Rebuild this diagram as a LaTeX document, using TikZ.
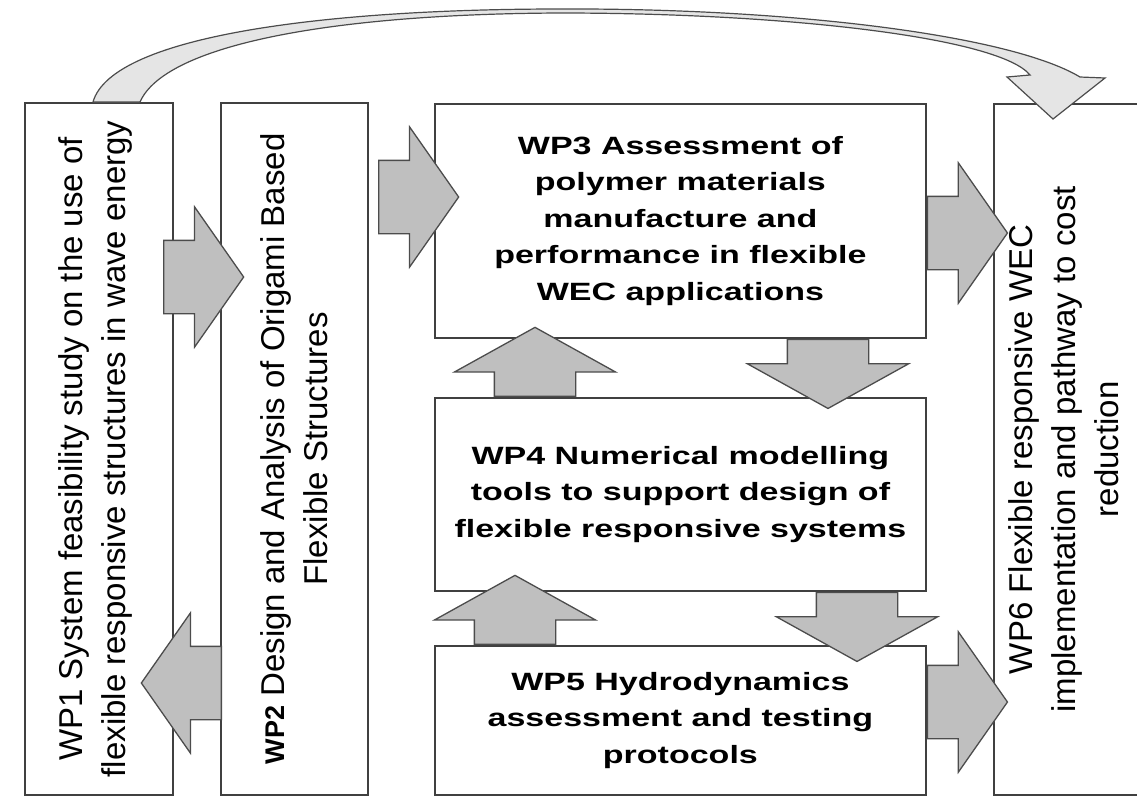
\documentclass[tikz,border=0pt]{standalone}
\usepackage{fontspec}
\setmainfont{Liberation Sans}
\newfontfamily\widefont[FakeStretch=1.36]{Liberation Sans}
\usetikzlibrary{shapes.arrows}

\begin{document}
\begin{tikzpicture}[x=1pt,y=-1pt,
  box/.style={draw=black!75,line width=1.8pt,fill=white,inner sep=0pt,anchor=north west},
  htext/.style={align=center,font=\widefont\bfseries\fontsize{25}{36.5}\selectfont},
  vtext/.style={rotate=90,align=center,font=\fontsize{33}{43}\selectfont},
  blk/.style={single arrow,draw=black!70,line width=1.3pt,fill=black!25,inner xsep=0pt,anchor=tail},
  harr/.style={blk,minimum height=80pt,inner ysep=36pt,single arrow head extend=33.5pt,single arrow tip angle=110},
  varr/.style={blk,minimum height=69pt,inner ysep=40pt,single arrow head extend=40pt,single arrow tip angle=122}]
\useasboundingbox (0,0) rectangle (1137,796);
\clip (0,0) rectangle (1137,796);

\node[box,minimum width=148pt,minimum height=692pt] (wp1) at (24,102) {};
\node[box,minimum width=147pt,minimum height=692pt] (wp2) at (220,102) {};
\node[box,minimum width=491pt,minimum height=234pt,htext] (wp3) at (434,103) {WP3 Assessment of\\polymer materials\\manufacture and\\performance in flexible\\WEC applications};
\node[box,minimum width=491pt,minimum height=193pt,htext] (wp4) at (434,397) {WP4 Numerical modelling\\tools to support design of\\flexible responsive systems};
\node[box,minimum width=491pt,minimum height=149pt,htext] (wp5) at (434,645) {WP5 Hydrodynamics\\assessment and testing\\protocols};
\node[box,minimum width=150pt,minimum height=691pt] (wp6) at (993,103) {};

\node[vtext] (t1) at ([xshift=-3pt]wp1.center) {WP1 System feasibility study on the use of\\flexible responsive structures in wave energy};
\node[vtext] (t2) at (wp2.center) {{\bfseries\fontsize{27}{43}\selectfont WP2} Design and Analysis of Origami Based\\Flexible Structures};
\node[vtext] (t6) at ([xshift=-5pt]wp6.center) {WP6 Flexible responsive WEC\\implementation and pathway to cost\\reduction};

\node[harr] (a12) at (163,277) {};
\node[harr,rotate=180] (a21) at (222,683) {};
\node[harr] (a23) at (378,197) {};
\node[harr] (a36) at (wp3.east |- 0,233) {};
\node[harr] (a56) at (wp5.east |- 0,702) {};
\node[varr,rotate=90] (a43) at (535,0 |- wp4.north) {};
\node[varr,rotate=270] (a34) at (828,0 |- wp3.south) {};
\node[varr,rotate=90] (a54) at (515,0 |- wp5.north) {};
\node[varr,rotate=270] (a45) at (857,0 |- wp4.south) {};

\coordinate (c1) at (93,102);
\coordinate (c2) at (140,102);
\draw[line width=1.2pt,draw=black!70,fill=black!10] (c1) .. controls (112,35) and (330,9) .. (560,9) .. controls (790,8) and (1010,35) .. (1080,77) -- (1105,78) -- (1053,119) -- (1007,77) -- (1030,75) .. controls (1000,38) and (790,13) .. (560,13) .. controls (330,14) and (165,45) .. (c2) -- cycle;
\end{tikzpicture}
\end{document}
